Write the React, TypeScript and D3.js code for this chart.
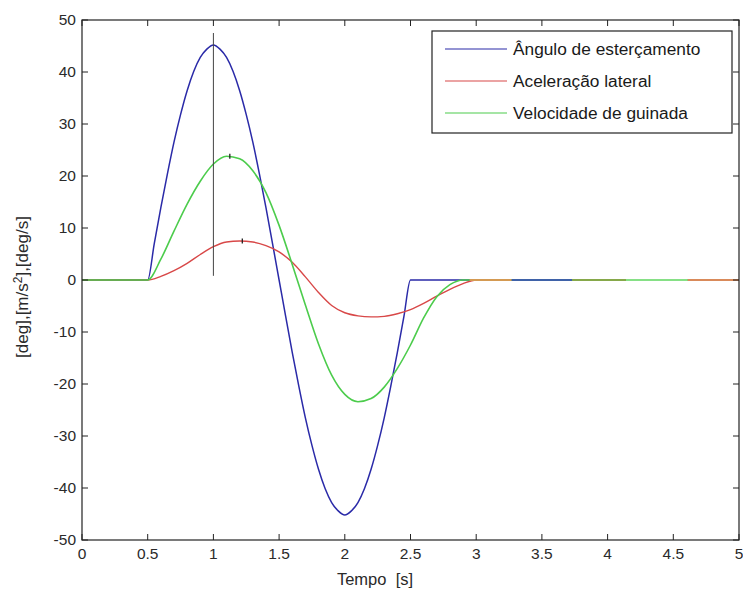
import React from "react";
import * as d3 from "d3";

// Time (s) and values
const blueT = [0, 0.5, 0.55, 0.6, 0.65, 0.7, 0.75, 0.8, 0.85, 0.9, 0.95, 1.0, 1.05, 1.1, 1.15, 1.2, 1.25, 1.3, 1.35, 1.4, 1.45, 1.5,
  1.55, 1.6, 1.65, 1.7, 1.75, 1.8, 1.85, 1.9, 1.95, 2.0, 2.05, 2.1, 2.15, 2.2, 2.25, 2.3, 2.35, 2.4, 2.45, 2.5, 5];
const blueV = [0, 0, 7.0, 13.9, 20.4, 26.5, 31.8, 36.4, 40.1, 42.8, 44.4, 45.2, 44.4, 42.8, 40.1, 36.4, 31.8, 26.5, 20.4, 13.9, 7.0, 0,
  -7.0, -13.9, -20.4, -26.5, -31.8, -36.4, -40.1, -42.8, -44.4, -45.2, -44.4, -42.8, -40.1, -36.4, -31.8, -26.5, -20.4, -13.9, -7.0, 0, 0];

const redT = [0, 0.5, 0.6, 0.7, 0.8, 0.9, 1.0, 1.1, 1.2, 1.3, 1.4, 1.5, 1.6, 1.7, 1.8, 1.9, 2.0, 2.1, 2.2, 2.3, 2.4, 2.5, 2.6, 2.7, 2.8, 2.9, 3.0, 5];
const redV = [0, 0, 0.7, 1.8, 3.2, 4.9, 6.4, 7.3, 7.5, 7.3, 6.6, 5.4, 3.4, 0.6, -2.4, -4.9, -6.3, -6.9, -7.1, -7.0, -6.5, -5.7, -4.5, -3.1, -1.8, -0.7, 0, 0];

const greenT = [0, 0.5, 0.6, 0.7, 0.8, 0.9, 1.0, 1.1, 1.2, 1.3, 1.4, 1.5, 1.6, 1.7, 1.8, 1.9, 2.0, 2.1, 2.2, 2.3, 2.4, 2.5, 2.6, 2.7, 2.8, 2.9, 5];
const greenV = [0, 0, 4.0, 9.4, 14.6, 19.0, 22.3, 23.8, 23.3, 21.0, 16.8, 10.5, 3.0, -4.8, -12.3, -18.3, -22.0, -23.4, -22.8, -20.6, -17.0, -12.5, -7.3, -3.2, -0.9, 0, 0];

// Colored zero-level segments after 3 s
const segStart = [2.95, 3.27, 3.73, 4.14, 4.61];
const segEnd = [3.27, 3.73, 4.14, 4.61, 5];
const segColor = ["#d49a52", "#3f62a8", "#86a84a", "#86e086", "#d98a5a"];

const xTicks = [0, 0.5, 1, 1.5, 2, 2.5, 3, 3.5, 4, 4.5, 5];
const yTicks = [-50, -40, -30, -20, -10, 0, 10, 20, 30, 40, 50];

const legendLabels = ["Ângulo de esterçamento", "Aceleração lateral", "Velocidade de guinada"];
const seriesColors = ["#2a2aa8", "#d84848", "#4ccc4c"];

// Markers (data cursors) seen on the curves
const cursorT = [1.125, 1.22];
const cursorV = [23.8, 7.5];
const vLineT = 1.0;
const vLineFrom = 0.8;
const vLineTo = 47.5;

export default function App() {
  const W = 743, H = 595;
  const L = 82, R = 739, T = 20, B = 540;
  const x = d3.scaleLinear().domain([0, 5]).range([L, R]);
  const y = d3.scaleLinear().domain([-50, 50]).range([B, T]);
  const mk = (ts: number[], vs: number[], curve: any) =>
    d3.line<number>().x((_, i) => x(ts[i])).y((v) => y(v)).curve(curve)(vs) || "";
  const font = "'Liberation Sans', Arial, sans-serif";
  const tickLen = 6;

  return (
    <svg width={W} height={H} style={{ position: "absolute", left: 0, top: 0, background: "#fff" }} fontFamily={font}>
      <rect x={0} y={0} width={W} height={H} fill="#fff" />
      <defs>
        <clipPath id="plot">
          <rect x={L} y={T} width={R - L} height={B - T} />
        </clipPath>
      </defs>
      <g clipPath="url(#plot)">
        <path d={mk(blueT, blueV, d3.curveMonotoneX)} fill="none" stroke={seriesColors[0]} strokeWidth={1.5} />
        <path d={mk(redT, redV, d3.curveMonotoneX)} fill="none" stroke={seriesColors[1]} strokeWidth={1.4} />
        <path d={mk(greenT, greenV, d3.curveMonotoneX)} fill="none" stroke={seriesColors[2]} strokeWidth={1.6} />
        {segStart.map((s, i) => (
          <line key={i} x1={x(s)} x2={x(segEnd[i])} y1={y(0)} y2={y(0)} stroke={segColor[i]} strokeWidth={1.8} />
        ))}
        <line x1={x(vLineT)} x2={x(vLineT)} y1={y(vLineFrom)} y2={y(vLineTo)} stroke="#444" strokeWidth={1} />
        {cursorT.map((t, i) => (
          <line key={i} x1={x(t)} x2={x(t)} y1={y(cursorV[i]) - 2.5} y2={y(cursorV[i]) + 2.5} stroke="#222" strokeWidth={1.3} />
        ))}
      </g>
      {/* frame */}
      <rect x={L} y={T} width={R - L} height={B - T} fill="none" stroke="#222" strokeWidth={1.2} />
      {xTicks.map((t, i) => (
        <g key={"x" + i}>
          <line x1={x(t)} x2={x(t)} y1={B} y2={B - tickLen} stroke="#222" />
          <line x1={x(t)} x2={x(t)} y1={T} y2={T + tickLen} stroke="#222" />
          <text x={x(t)} y={B + 19} textAnchor="middle" fontSize={15.5} fill="#2a2a2a">{t}</text>
        </g>
      ))}
      {yTicks.map((v, i) => (
        <g key={"y" + i}>
          <line x1={L} x2={L + tickLen} y1={y(v)} y2={y(v)} stroke="#222" />
          <line x1={R} x2={R - tickLen} y1={y(v)} y2={y(v)} stroke="#222" />
          <text x={L - 6} y={y(v) + 5} textAnchor="end" fontSize={15.5} fill="#2a2a2a">{v}</text>
        </g>
      ))}
      <text x={375} y={585} textAnchor="middle" fontSize={16.5} fill="#2a2a2a" xmlSpace="preserve">Tempo  [s]</text>
      <text transform={`translate(28,287) rotate(-90)`} textAnchor="middle" fontSize={17} fill="#2a2a2a">
        [deg],[m/s<tspan dy={-6} fontSize={12}>2</tspan><tspan dy={6}>],[deg/s]</tspan>
      </text>
      {/* legend */}
      <rect x={432} y={31} width={300} height={102} fill="#fff" stroke="#222" strokeWidth={1.2} />
      {legendLabels.map((lab, i) => (
        <g key={"l" + i}>
          <line x1={445} x2={507} y1={49 + i * 32} y2={49 + i * 32} stroke={seriesColors[i]} strokeWidth={1.2} />
          <text x={513} y={49 + i * 32 + 6} fontSize={17.3} fill="#1a1a1a">{lab}</text>
        </g>
      ))}
    </svg>
  );
}
